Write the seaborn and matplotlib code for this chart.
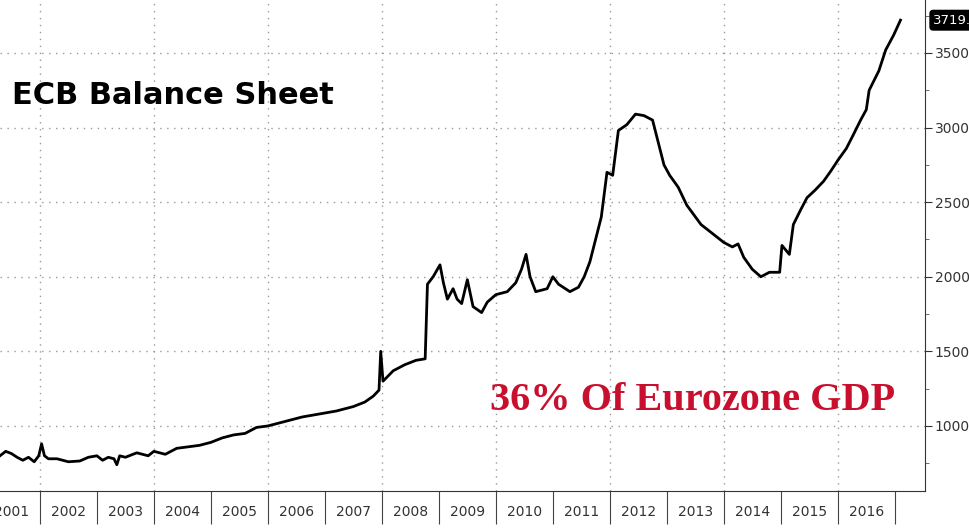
import matplotlib
matplotlib.use("Agg")
import matplotlib.pyplot as plt
import seaborn as sns
import pandas as pd
from matplotlib.ticker import MultipleLocator, FixedLocator

years = [2001.30, 2001.40, 2001.50, 2001.60, 2001.70, 2001.80, 2001.90, 2001.98, 2002.03, 2002.08, 2002.15,
         2002.30, 2002.50, 2002.70, 2002.85, 2003.00, 2003.10, 2003.20, 2003.30, 2003.35, 2003.40, 2003.50,
         2003.70, 2003.90, 2004.00, 2004.20, 2004.40, 2004.60, 2004.80, 2005.00, 2005.20, 2005.40, 2005.60,
         2005.80, 2006.00, 2006.30, 2006.60, 2006.90, 2007.20, 2007.50, 2007.70, 2007.85, 2007.95, 2007.98,
         2008.02, 2008.20, 2008.40, 2008.60, 2008.76, 2008.80, 2008.90, 2009.02, 2009.08, 2009.15, 2009.25,
         2009.32, 2009.40, 2009.50, 2009.60, 2009.75, 2009.85, 2010.00, 2010.20, 2010.35, 2010.45, 2010.53,
         2010.60, 2010.70, 2010.90, 2011.00, 2011.10, 2011.30, 2011.45, 2011.55, 2011.65, 2011.75, 2011.85,
         2011.95, 2012.05, 2012.15, 2012.30, 2012.45, 2012.60, 2012.75, 2012.85, 2012.95, 2013.05, 2013.20,
         2013.35, 2013.60, 2013.80, 2014.00, 2014.15, 2014.25, 2014.35, 2014.50, 2014.65, 2014.80, 2014.98,
         2015.02, 2015.15, 2015.22, 2015.35, 2015.46, 2015.60, 2015.75, 2015.88, 2016.00, 2016.15, 2016.27,
         2016.40, 2016.50, 2016.55, 2016.72, 2016.84, 2016.98, 2017.10]
values = [800, 830, 815, 790, 770, 790, 760, 800, 880, 800, 780,
          780, 760, 765, 790, 800, 770, 790, 780, 740, 800, 790,
          820, 800, 830, 810, 850, 860, 870, 890, 920, 940, 950,
          990, 1000, 1030, 1060, 1080, 1100, 1130, 1160, 1200, 1240, 1500,
          1300, 1370, 1410, 1440, 1450, 1950, 2000, 2080, 1960, 1850, 1920,
          1850, 1820, 1980, 1800, 1760, 1830, 1880, 1900, 1960, 2050, 2150,
          2000, 1900, 1920, 2000, 1950, 1900, 1930, 2000, 2100, 2250, 2400,
          2700, 2680, 2980, 3020, 3090, 3080, 3050, 2900, 2750, 2680, 2600,
          2480, 2350, 2290, 2230, 2200, 2220, 2130, 2050, 2000, 2030, 2030,
          2210, 2150, 2350, 2450, 2530, 2580, 2640, 2710, 2780, 2860, 2950,
          3050, 3120, 3250, 3380, 3520, 3620, 3720]
last_label = "3719.6"
y_ticks = [1000, 1500, 2000, 2500, 3000, 3500]
year_labels = list(range(2001, 2017))

df = pd.DataFrame({"year": years, "value": values})

fig = plt.figure(figsize=(9.69, 5.32), dpi=100)
ax = fig.add_axes([0.0, 41/532, 925/969, 1 - 41/532])
sns.lineplot(data=df, x="year", y="value", ax=ax, color="black", linewidth=2.0)

ax.set_xlim(2001.3, 2017.53)
ax.set_ylim(564, 3855)
ax.set_xlabel("")
ax.set_ylabel("")
for s in ["top", "left"]:
    ax.spines[s].set_visible(False)
ax.spines["bottom"].set_color("#333333")
ax.spines["right"].set_color("#333333")

ax.yaxis.tick_right()
ax.set_yticks(y_ticks)
ax.yaxis.set_minor_locator(MultipleLocator(250))
ax.tick_params(axis="y", which="major", length=5, direction="out", labelsize=10, colors="#333333", pad=2)
ax.tick_params(axis="y", which="minor", length=3, colors="#555555")

ax.set_xticks(list(range(2002, 2018)))
ax.set_xticklabels([])
ax.xaxis.set_minor_locator(FixedLocator([y + 0.5 for y in year_labels]))
ax.set_xticklabels([str(y) for y in year_labels], minor=True)
ax.tick_params(axis="x", which="major", length=24, direction="out", color="#444444")
ax.tick_params(axis="x", which="minor", length=0, pad=10, labelsize=10, labelcolor="#333333")

for y in y_ticks:
    ax.axhline(y, color="#999999", linestyle=(0, (1, 4)), linewidth=1, zorder=0)
for x in range(2002, 2018, 2):
    ax.axvline(x, color="#999999", linestyle=(0, (1, 4)), linewidth=1, zorder=0)

ax.text(0.013, 0.805, "ECB Balance Sheet", transform=ax.transAxes, fontsize=22,
        fontweight="bold", family="DejaVu Sans", color="black", va="center")
ax.text(0.53, 0.185, "36% Of Eurozone GDP", transform=ax.transAxes, fontsize=29,
        fontweight="bold", family="Liberation Serif", color="#c8102e", va="center")
ax.annotate(last_label, xy=(1.0, 3719.6), xycoords=("axes fraction", "data"),
            xytext=(6, 0), textcoords="offset points", fontsize=9.5, color="white",
            va="center", ha="left", annotation_clip=False,
            bbox=dict(boxstyle="round,pad=0.25", fc="black", ec="black"))

fig.savefig("out.png", dpi=100)
